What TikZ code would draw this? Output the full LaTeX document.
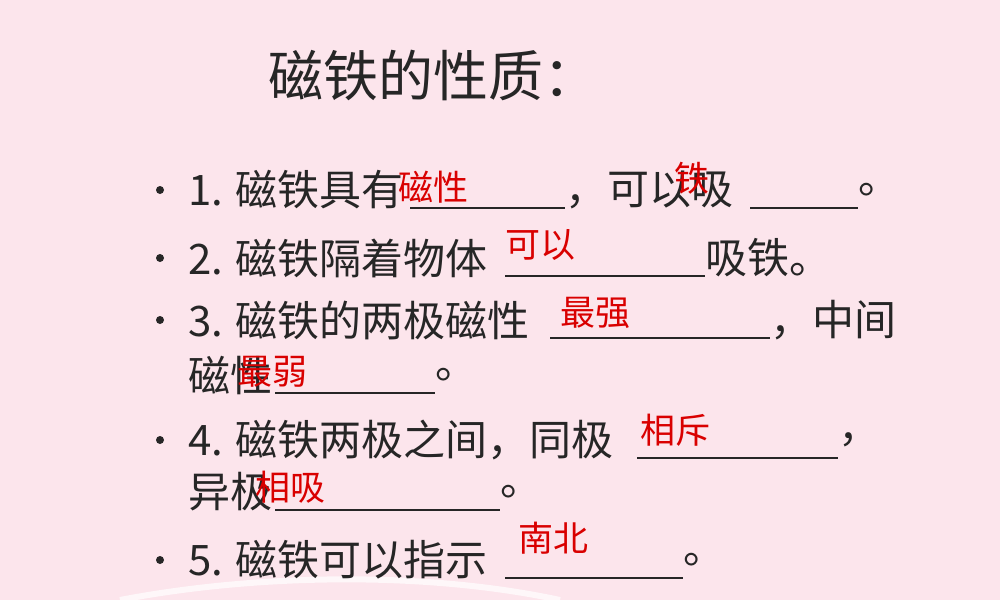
\documentclass[tikz,border=0pt]{standalone}
\usepackage{fontspec}
\setmainfont{Noto Sans CJK SC}
\begin{document}
\begin{tikzpicture}[x=1pt,y=-1pt,
  body/.style={anchor=west,inner sep=0pt,font=\fontsize{42}{48}\selectfont,text=black!85},
  ans/.style={anchor=west,inner sep=0pt,font=\fontsize{35}{40}\selectfont,text=red!85!black},
  ul/.style={line width=1.6pt,black!85}]
\definecolor{bg}{RGB}{252,229,236}
\fill[bg] (0,0) rectangle (1000,600);
\useasboundingbox (0,0) rectangle (1000,600);
\draw[white,line width=6pt,opacity=0.7] (120,600) .. controls (250,575) and (420,570) .. (560,600);
\node[anchor=west,inner sep=0pt,font=\fontsize{55}{62}\selectfont,text=black!85] (t) at (268,75) {磁铁的性质：};
\foreach \y in {190,258,320,440,560}{\fill[black!85] (160,\y) circle (4);}
\node[body] (l1a) at (188,190) {1. 磁铁具有};
\draw[ul] (410,208) -- (565,208);
\node[body] (l1b) at (565,190) {，可以吸};
\draw[ul] (750,208) -- (858,208);
\node[body] (l1c) at (858,190) {。};
\node[ans] (a1) at (398,187) {磁性};
\node[ans] (a2) at (674,178) {铁};
\node[body] (l2a) at (188,258) {2. 磁铁隔着物体};
\draw[ul] (505,276) -- (705,276);
\node[body] (l2b) at (705,258) {吸铁。};
\node[ans] (a3) at (505,245) {可以};
\node[body] (l3a) at (188,320) {3. 磁铁的两极磁性};
\draw[ul] (550,338) -- (770,338);
\node[body] (l3b) at (770,320) {，中间};
\node[ans] (a4) at (560,313) {最强};
\node[body] (l3c) at (188,375) {磁性};
\draw[ul] (275,393) -- (435,393);
\node[body] (l3d) at (435,375) {。};
\node[ans] (a5) at (237,372) {最弱};
\node[body] (l4a) at (188,440) {4. 磁铁两极之间，同极};
\draw[ul] (637,458) -- (838,458);
\node[body] (l4b) at (838,440) {，};
\node[ans] (a6) at (640,430) {相斥};
\node[body] (l4c) at (188,492) {异极};
\draw[ul] (275,510) -- (500,510);
\node[body] (l4d) at (500,492) {。};
\node[ans] (a7) at (255,487) {相吸};
\node[body] (l5a) at (188,560) {5. 磁铁可以指示};
\draw[ul] (505,578) -- (683,578);
\node[body] (l5b) at (683,560) {。};
\node[ans] (a8) at (518,538) {南北};
\end{tikzpicture}
\end{document}
